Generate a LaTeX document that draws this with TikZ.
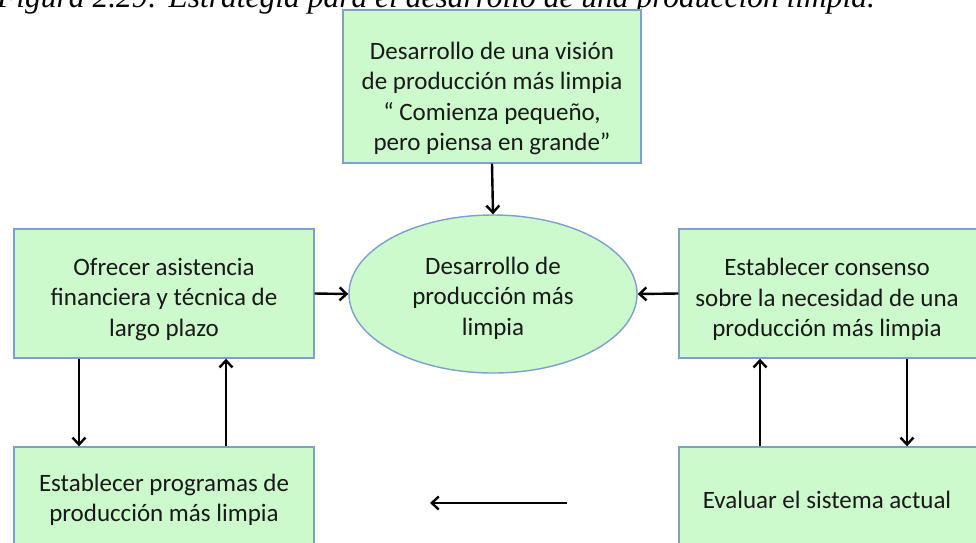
\documentclass[tikz,border=0pt]{standalone}
\usepackage{fontspec}
\setmainfont{Carlito}
\newfontfamily\capfont{Liberation Serif}
\usetikzlibrary{arrows.meta,shapes.geometric}
\definecolor{boxfill}{RGB}{204,250,204}
\definecolor{boxline}{RGB}{125,160,205}
\definecolor{txt}{RGB}{25,25,25}
\tikzset{
  box/.style={draw=boxline, fill=boxfill, line width=1.4pt, rectangle, inner sep=0pt},
  oval/.style={draw=boxline, fill=boxfill, line width=1.4pt, ellipse, inner sep=0pt},
  boxtext/.style={align=center, inner sep=0pt, font=\fontsize{25}{30.5}\selectfont, text=txt},
  arr/.style={draw=black, line width=2.4pt, -{Straight Barb[length=7pt,width=13pt,line width=2.4pt]}},
  captxt/.style={font=\capfont\itshape\fontsize{31.5}{36}\selectfont, text=black, inner sep=0pt}
}
\begin{document}
\begin{tikzpicture}[x=1pt,y=-1pt]
\useasboundingbox (0,0) rectangle (976,542);
\clip (0,0) rectangle (976,542);
\fill[white] (0,0) rectangle (976,542);
\node[captxt, anchor=base west] (cap) at (-3,7) {Figura 2.29: Estrategia para el desarrollo de una producción limpia.};
% shapes
\node[box, minimum width=298pt, minimum height=153pt] (top) at (492,86.5) {};
\node[oval, minimum width=288pt, minimum height=158pt] (ell) at (493,294) {};
\node[box, minimum width=300pt, minimum height=129pt] (left) at (164,293.5) {};
\node[box, minimum width=300pt, minimum height=129pt] (right) at (829,293.5) {};
\node[box, minimum width=300pt, minimum height=108pt] (bl) at (164,501) {};
\node[box, minimum width=300pt, minimum height=108pt] (br) at (829,501) {};
% texts
\node[boxtext] (topT) at ([yshift=-12pt]top.center)
  {Desarrollo de una visión\\de producción más limpia\\“ Comienza pequeño,\\pero piensa en grande”};
\node[boxtext] (ellT) at ([yshift=-4pt]ell.center)
  {Desarrollo de\\producción más\\limpia};
\node[boxtext] (leftT) at ([yshift=-6pt]left.center)
  {Ofrecer asistencia\\financiera y técnica de\\largo plazo};
\node[boxtext] (rightT) at ([yshift=-6pt,xshift=-2pt]right.center)
  {Establecer consenso\\sobre la necesidad de una\\producción más limpia};
\node[boxtext] (blT) at ([yshift=1pt]bl.center)
  {Establecer programas de\\producción más limpia};
\node[boxtext] (brT) at ([yshift=1pt,xshift=-2pt]br.center)
  {Evaluar el sistema actual};
% connectors
\coordinate (mstart) at (567,503);
\coordinate (mend) at (430,503);
\draw[arr] (top.south) -- (ell.north);
\draw[arr] (left.east) -- (ell.west);
\draw[arr] (right.west) -- (ell.east);
\draw[arr] ([xshift=-85pt]left.south) -- ([xshift=-85pt]bl.north);
\draw[arr] ([xshift=62pt]bl.north) -- ([xshift=62pt]left.south);
\draw[arr] ([xshift=-69pt]br.north) -- ([xshift=-69pt]right.south);
\draw[arr] ([xshift=78pt]right.south) -- ([xshift=78pt]br.north);
\draw[arr] (mstart) -- (mend);
\end{tikzpicture}
\end{document}
